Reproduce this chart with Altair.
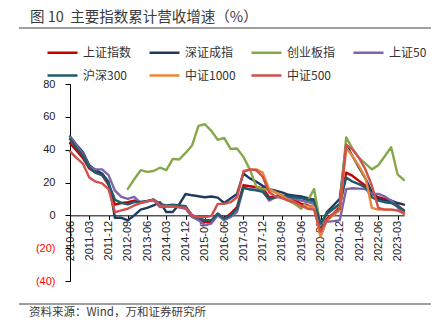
import altair as alt
import pandas as pd

dates = [
    "2010-06", "2010-09", "2010-12", "2011-03", "2011-06", "2011-09", "2011-12",
    "2012-03", "2012-06", "2012-09", "2012-12", "2013-03", "2013-06", "2013-09",
    "2013-12", "2014-03", "2014-06", "2014-09", "2014-12", "2015-03", "2015-06",
    "2015-09", "2015-12", "2016-03", "2016-06", "2016-09", "2016-12", "2017-03",
    "2017-06", "2017-09", "2017-12", "2018-03", "2018-06", "2018-09", "2018-12",
    "2019-03", "2019-06", "2019-09", "2019-12", "2020-03", "2020-06", "2020-09",
    "2020-12", "2021-03", "2021-06", "2021-09", "2021-12", "2022-03", "2022-06",
    "2022-09", "2022-12", "2023-03", "2023-06",
]

series_names = ["上证指数", "深证成指", "创业板指", "上证50", "沪深300", "中证1000", "中证500"]
series_colors = ["#C80000", "#1F3A5F", "#86A84A", "#7E64A8", "#1F5B6B", "#E8873A", "#D0504D"]

N = None
sh_index = [44, 39.5, 35, 28.5, 26, 24.5, 18.5, 6.5, 7.5, 8, 9, 8, 8.5, 9.5, 5.5, 5.5, 5.5, 5, 4.5,
            0, -2, -4, -4, 1, -2, 1, 5, 18.3, 17.7, 17.1, 16.5, 11, 11.5, 11.5, 10, 9, 7, 6, 5,
            -8, -2, 1, 5, 26, 24, 21, 18, 13, 11, 10, 8, 6, 3]
sz_index = [48, 43, 38.5, 30.5, 27.5, 25.5, 20.5, -1.5, -1.5, -3, 0, 3.5, 4.5, 6, 8, 2, 2, 6.7, 13,
            12.2, 11.6, 11, 11.5, 10.8, 7.5, 10.2, 13, 25.5, 22.5, 20.5, 18, 16, 15, 14, 12.5, 12,
            11.5, 10.5, 9.5, -6.5, 2, 6, 10, 43, 36, 29, 22.5, 14, 10, 9, 9, 7.5, 6.5]
cyb_index = [N, N, N, N, N, N, N, N, N, 16.1, 22, 27.5, 26.5, 27, 29, 27.5, 34.4, 34, 38, 42.5,
             54.5, 55.5, 51.5, 46, 47.2, 40.5, 40.7, 35.6, 28, 17.5, 16, 15.5, 14, 11, 9, 7, 4,
             9, 16, -6, 1, 4, 6, 47.5, 40.5, 35, 31.5, 28, 30.5, 36, 41.5, 25, 21.5]
sz50_index = [47.5, 42.5, 37.5, 29.5, 28, 28, 24.5, 15, 11.2, 10, 11.2, 7.5, 8.5, 9.5, 5, 5.5, 5.5,
              5, 4, -1, -3, -6, -5, 0, -3, -1, 2, 16.5, 16, 15.5, 15, 9, 11, 11.5, 10.5, 10, 9, 8,
              7, -5, -4, -3.5, -3, 16, 16.5, 16.3, 16, 13.2, 13, 11.5, 9, 5, 0.5]
hs300_index = [46.5, 41, 36.5, 29, 26, 24.5, 19.5, 9.5, 7.6, 6.7, 8.1, 8.1, 8.8, 9.6, 7, 6, 6.5, 6,
               5.5, 0, -1.5, -3, -3, 1, -2, 0, 4, 17, 15.7, 15.3, 14.3, 10, 11, 12, 11.5, 11, 10.5,
               9.5, 8.5, -5, 1, 4, 7, 23, 20.5, 19, 17, 11, 9, 8, 7.5, 5.5, 3]
zz1000_index = [N, N, N, N, N, N, N, N, N, N, N, N, N, N, N, N, N, N, N, N, N, N, N, N, N, N, N,
                27, 27.8, 28, 26, 16, 14, 12, 9.5, 8, 5.5, 5.5, 5, -13, -3, 0, 3, 41, 36, 30, 23,
                4.5, 3.5, 3.5, 3.5, 3, 1]
zz500_index = [39, 35, 31.5, 23, 20.5, 19.5, 16, 2, 3, 4, 6, 7.5, 8.5, 9.5, 6, 5.5, 5.5, 5, 4.7, 0,
               -1, -1, -0.5, 7, 7, 8, 11, 26.5, 28, 27.5, 23.5, 14, 11.5, 10.5, 9, 8, 6, 4, 3.5,
               -10, -3, 1, 4, 43, 40, 35, 28, 18, 4.5, 3.5, 3.5, 3, 1.5]

y_ticks = [-40, -20, 0, 20, 40, 60, 80]
x_tick_labels = dates[::3]

all_series = [sh_index, sz_index, cyb_index, sz50_index, hs300_index, zz1000_index, zz500_index]
rows = []
for k, (name, vals) in enumerate(zip(series_names, all_series)):
    for d, v in zip(dates, vals):
        if v is not None:
            rows.append({"date": d, "series": name, "value": v, "k": k})
df = pd.DataFrame(rows)

W, H = 334, 197

lines = alt.Chart(df).mark_line(strokeWidth=2.4, strokeJoin="round", strokeCap="round").encode(
    x=alt.X(
        "date:O",
        scale=alt.Scale(type="point", padding=0, domain=dates),
        axis=alt.Axis(
            values=x_tick_labels, labelAngle=-90, title=None, offset=-H / 3,
            domainColor="#000000", domainWidth=1, tickColor="#000000", tickSize=4,
            labelPadding=1, labelFont="Liberation Sans", labelFontSize=11,
            labelColor="#222222", grid=False, labelOverlap=False,
        ),
    ),
    y=alt.Y(
        "value:Q",
        scale=alt.Scale(domain=[-40, 80], nice=False, zero=False),
        axis=alt.Axis(
            values=y_ticks, title=None, grid=False, domainColor="#000000", domainWidth=1,
            tickColor="#000000", tickSize=5, labelPadding=10, labelFont="Liberation Sans",
            labelFontSize=11,
            labelExpr="datum.value < 0 ? '(' + abs(datum.value) + ')' : datum.value",
            labelColor=alt.condition("datum.value < 0", alt.value("#FF0000"), alt.value("#222222")),
        ),
    ),
    color=alt.Color(
        "series:N",
        scale=alt.Scale(domain=series_names, range=series_colors),
        legend=alt.Legend(
            orient="none", legendX=-24, legendY=-48, direction="horizontal", columns=4,
            symbolType="stroke", symbolSize=900, symbolStrokeWidth=2.5, labelFontSize=12,
            labelFont="Noto Sans CJK SC", labelColor="#333333", columnPadding=10,
            rowPadding=-13, gridAlign="all", title=None, labelOffset=4,
        ),
    ),
    order=alt.Order("k:Q"),
)

one = alt.Data(values=[{"a": 1}])

title = alt.Chart(one).mark_text(
    align="left", baseline="middle", font="Noto Sans CJK SC", fontSize=14.5, color="#3A3A3A"
).encode(x=alt.value(-40), y=alt.value(-66),
         text=alt.value("图\u00a010\u00a0\u00a0主要指数累计营收增速（%）"))

top_rule = alt.Chart(one).mark_rule(color="#7F7F7F", strokeWidth=1.5).encode(
    x=alt.value(-51), x2=alt.value(361), y=alt.value(-56)
)
bottom_rule = alt.Chart(one).mark_rule(color="#7F7F7F", strokeWidth=1.5).encode(
    x=alt.value(-51), x2=alt.value(361), y=alt.value(220)
)
source = alt.Chart(one).mark_text(
    align="left", baseline="middle", font="Noto Sans CJK SC", fontSize=11.5, color="#3A3A3A"
).encode(x=alt.value(-41), y=alt.value(229), text=alt.value("资料来源：Wind，万和证券研究所"))

chart = alt.layer(lines, title, top_rule, bottom_rule, source).properties(
    width=W, height=H,
    padding={"left": 70, "top": 84, "right": 40, "bottom": 48},
    autosize=alt.AutoSizeParams(type="none"),
    background="white",
).configure_view(stroke=None)

chart.save("out.html", embed_options={"renderer": "svg", "actions": False})
